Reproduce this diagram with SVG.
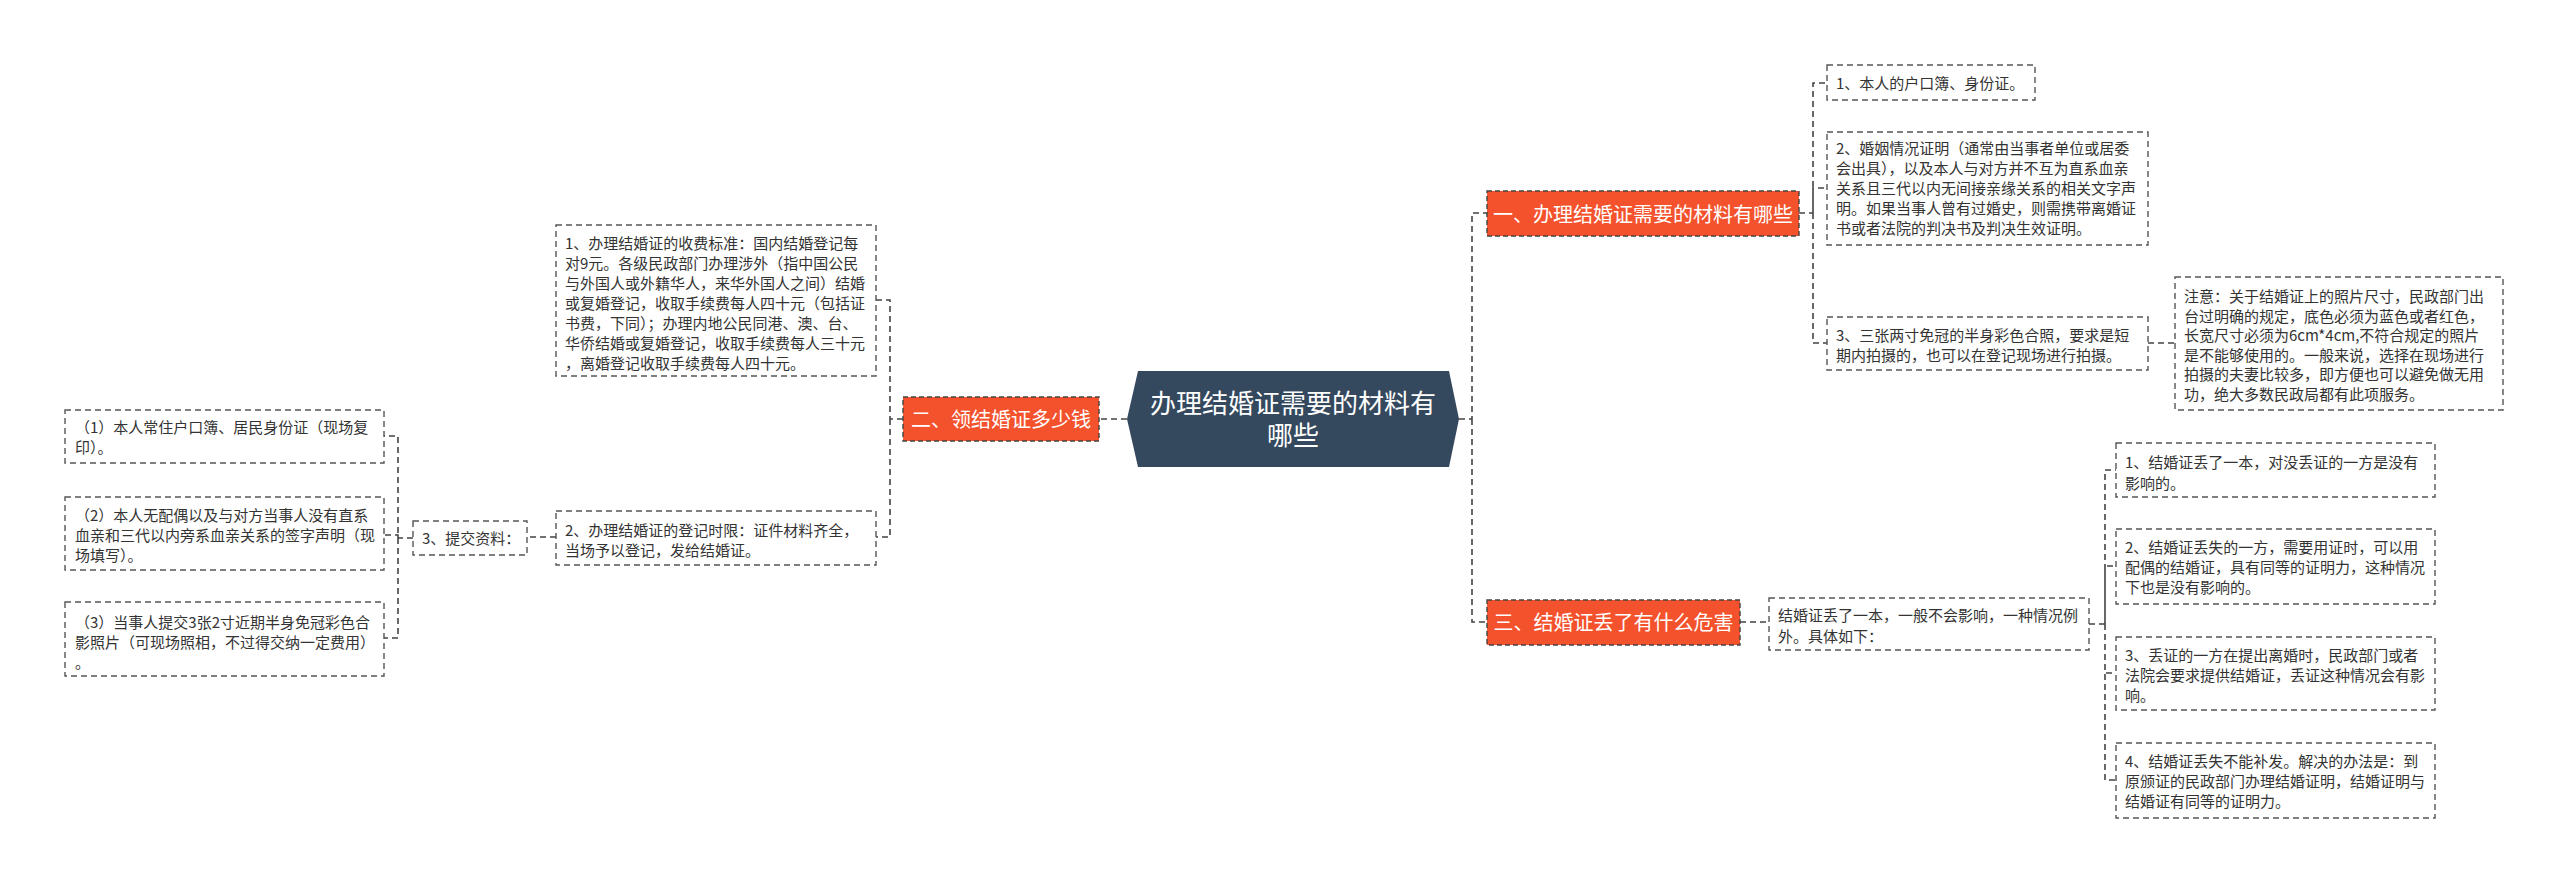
<svg xmlns="http://www.w3.org/2000/svg" width="2560" height="882" viewBox="0 0 2560 882">
<style>
text{font-family:"Noto Sans CJK SC","Noto Sans",sans-serif;}
.bx{fill:#fff;stroke:#555;stroke-width:1.4;stroke-dasharray:6 4;}
.or{fill:#F4522D;stroke:#444;stroke-width:1.4;stroke-dasharray:5 3;}
.t{font-size:15px;fill:#333;}
.to{font-size:20px;fill:#fff;text-anchor:middle;}
.tc{font-size:26px;fill:#fff;text-anchor:middle;}
.cn{fill:none;stroke:#444;stroke-width:1.6;stroke-dasharray:6 4;}
</style>
<rect width="2560" height="882" fill="#fff"/>
<g id="connectors">
<path class="cn" d="M1127 419H1099"/>
<path class="cn" d="M903 419H890V300H876M890 419V537H876"/>
<path class="cn" d="M556 537H527"/>
<path class="cn" d="M413 538H398V436H384M398 538V535H384M398 538V638H384"/>
<path class="cn" d="M1459 419H1472V213H1487M1472 419V622H1487"/>
<path class="cn" d="M1799 213H1813V83H1827M1813 213V188H1827M1813 213V343H1827"/>
<path class="cn" d="M2148 343H2175"/>
<path class="cn" d="M1740 622H1769"/>
<path class="cn" d="M2089 624H2105V470H2116M2105 624V566H2116M2105 624V673H2116M2105 624V780H2116"/>
</g>
<g id="center">
<polygon points="1127,419 1138,371 1449,371 1459,419 1449,467 1138,467" fill="#35495E"/>
<text class="tc" x="1293" y="413">办理结婚证需要的材料有</text>
<text class="tc" x="1293" y="445">哪些</text>
</g>
<g id="n2">
<rect class="or" x="903" y="397" width="196" height="44"/>
<text class="to" x="1001" y="426.5">二、领结婚证多少钱</text>
</g>
<g id="n2a">
<rect class="bx" x="556" y="225" width="320" height="151"/>
<text class="t" x="565" y="249">1、办理结婚证的收费标准：国内结婚登记每</text>
<text class="t" x="565" y="269">对9元。各级民政部门办理涉外（指中国公民</text>
<text class="t" x="565" y="289">与外国人或外籍华人，来华外国人之间）结婚</text>
<text class="t" x="565" y="309">或复婚登记，收取手续费每人四十元（包括证</text>
<text class="t" x="565" y="329">书费，下同）；办理内地公民同港、澳、台、</text>
<text class="t" x="565" y="349">华侨结婚或复婚登记，收取手续费每人三十元</text>
<text class="t" x="565" y="369">，离婚登记收取手续费每人四十元。</text>
</g>
<g id="n2b">
<rect class="bx" x="556" y="511" width="320" height="54"/>
<text class="t" x="565" y="536">2、办理结婚证的登记时限：证件材料齐全，</text>
<text class="t" x="565" y="556">当场予以登记，发给结婚证。</text>
</g>
<g id="n2c">
<rect class="bx" x="413" y="521" width="114" height="34"/>
<text class="t" x="422" y="544">3、提交资料：</text>
</g>
<g id="n2c1">
<rect class="bx" x="65" y="410" width="319" height="53"/>
<text class="t" x="75" y="433">（1）本人常住户口簿、居民身份证（现场复</text>
<text class="t" x="75" y="453">印）。</text>
</g>
<g id="n2c2">
<rect class="bx" x="65" y="497" width="319" height="73"/>
<text class="t" x="75" y="521">（2）本人无配偶以及与对方当事人没有直系</text>
<text class="t" x="75" y="541">血亲和三代以内旁系血亲关系的签字声明（现</text>
<text class="t" x="75" y="561">场填写）。</text>
</g>
<g id="n2c3">
<rect class="bx" x="65" y="602" width="319" height="74"/>
<text class="t" x="75" y="628">（3）当事人提交3张2寸近期半身免冠彩色合</text>
<text class="t" x="75" y="648">影照片（可现场照相，不过得交纳一定费用）</text>
<text class="t" x="75" y="668">。</text>
</g>
<g id="n1">
<rect class="or" x="1487" y="191" width="312" height="45"/>
<text class="to" x="1643" y="221.5">一、办理结婚证需要的材料有哪些</text>
</g>
<g id="n1a">
<rect class="bx" x="1827" y="65" width="208" height="35"/>
<text class="t" x="1836" y="89">1、本人的户口簿、身份证。</text>
</g>
<g id="n1b">
<rect class="bx" x="1827" y="132" width="321" height="113"/>
<text class="t" x="1836" y="154">2、婚姻情况证明（通常由当事者单位或居委</text>
<text class="t" x="1836" y="174">会出具），以及本人与对方并不互为直系血亲</text>
<text class="t" x="1836" y="194">关系且三代以内无间接亲缘关系的相关文字声</text>
<text class="t" x="1836" y="214">明。如果当事人曾有过婚史，则需携带离婚证</text>
<text class="t" x="1836" y="234">书或者法院的判决书及判决生效证明。</text>
</g>
<g id="n1c">
<rect class="bx" x="1827" y="317" width="321" height="53"/>
<text class="t" x="1836" y="341">3、三张两寸免冠的半身彩色合照，要求是短</text>
<text class="t" x="1836" y="361">期内拍摄的，也可以在登记现场进行拍摄。</text>
</g>
<g id="n1c1">
<rect class="bx" x="2175" y="277" width="328" height="133"/>
<text class="t" x="2184" y="302">注意：关于结婚证上的照片尺寸，民政部门出</text>
<text class="t" x="2184" y="321.5">台过明确的规定，底色必须为蓝色或者红色，</text>
<text class="t" x="2184" y="341">长宽尺寸必须为6cm*4cm,不符合规定的照片</text>
<text class="t" x="2184" y="360.5">是不能够使用的。一般来说，选择在现场进行</text>
<text class="t" x="2184" y="380">拍摄的夫妻比较多，即方便也可以避免做无用</text>
<text class="t" x="2184" y="399.5">功，绝大多数民政局都有此项服务。</text>
</g>
<g id="n3">
<rect class="or" x="1487" y="600" width="253" height="45"/>
<text class="to" x="1613.5" y="630">三、结婚证丢了有什么危害</text>
</g>
<g id="n3a">
<rect class="bx" x="1769" y="598" width="320" height="52"/>
<text class="t" x="1778" y="621">结婚证丢了一本，一般不会影响，一种情况例</text>
<text class="t" x="1778" y="642">外。具体如下：</text>
</g>
<g id="n3a1">
<rect class="bx" x="2116" y="443" width="319" height="54"/>
<text class="t" x="2125" y="468">1、结婚证丢了一本，对没丢证的一方是没有</text>
<text class="t" x="2125" y="489">影响的。</text>
</g>
<g id="n3a2">
<rect class="bx" x="2116" y="529" width="319" height="75"/>
<text class="t" x="2125" y="553">2、结婚证丢失的一方，需要用证时，可以用</text>
<text class="t" x="2125" y="573">配偶的结婚证，具有同等的证明力，这种情况</text>
<text class="t" x="2125" y="593">下也是没有影响的。</text>
</g>
<g id="n3a3">
<rect class="bx" x="2116" y="637" width="319" height="73"/>
<text class="t" x="2125" y="661">3、丢证的一方在提出离婚时，民政部门或者</text>
<text class="t" x="2125" y="681">法院会要求提供结婚证，丢证这种情况会有影</text>
<text class="t" x="2125" y="701">响。</text>
</g>
<g id="n3a4">
<rect class="bx" x="2116" y="743" width="319" height="75"/>
<text class="t" x="2125" y="767">4、结婚证丢失不能补发。解决的办法是：到</text>
<text class="t" x="2125" y="787">原颁证的民政部门办理结婚证明，结婚证明与</text>
<text class="t" x="2125" y="807">结婚证有同等的证明力。</text>
</g>
</svg>
